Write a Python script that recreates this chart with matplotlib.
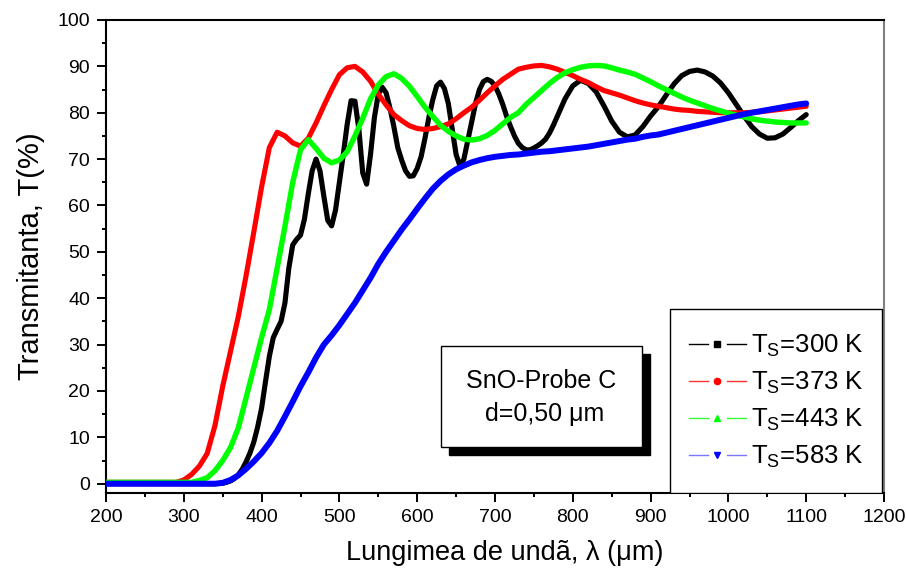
import matplotlib
matplotlib.use("Agg")
import matplotlib.pyplot as plt
from matplotlib.lines import Line2D
from matplotlib.patches import Rectangle
from matplotlib.ticker import MultipleLocator
from matplotlib.legend_handler import HandlerBase

plt.rcParams['font.family'] = ['Liberation Sans', 'DejaVu Sans']
plt.rcParams['mathtext.fontset'] = 'custom'
plt.rcParams['mathtext.rm'] = 'Liberation Sans'
plt.rcParams['mathtext.it'] = 'Liberation Sans'

# ---------------- data ----------------
wl_black = list(range(200, 350, 10)) + list(range(350, 780, 5)) + list(range(780, 1101, 10))
t_300 = ([0.0] * 15 +
         [0.1, 0.3, 0.6, 1.1, 1.9, 3.1, 4.7, 6.6, 9.0, 12.3,
          16.3, 22.0, 27.5, 31.5, 33.3, 35.0, 39.0, 46.5, 51.5, 52.7,
          53.6, 57.0, 62.5, 67.5, 70.0, 67.5, 62.0, 56.8, 55.6, 59.0,
          65.0, 71.0, 77.5, 82.6, 82.5, 76.5, 67.0, 64.6, 71.0, 79.0,
          84.0, 85.5, 84.3, 81.0, 77.0, 72.5, 69.8, 67.5, 66.3, 66.4,
          68.0, 70.5, 74.5, 79.0, 82.8, 85.8, 86.6, 85.2, 82.0, 76.5,
          71.0, 68.5, 70.0, 74.0, 78.0, 82.0, 85.0, 86.7, 87.2, 86.8,
          85.8, 84.0, 81.8, 79.2, 77.0, 75.0, 73.4, 72.5, 72.0, 72.0,
          72.4, 72.9, 73.5, 74.3, 75.6, 77.3] +
         [79.2, 83.0, 85.8, 87.0, 86.3, 84.5, 81.5, 78.2, 75.8, 74.8,
          75.2, 77.0, 79.3, 81.3, 83.8, 86.2, 88.0, 88.9, 89.2, 88.8,
          87.9, 86.4, 84.3, 81.8, 79.3, 77.0, 75.4, 74.5, 74.6, 75.4,
          76.8, 78.3, 79.6])

wl = list(range(200, 1101, 10))
t_373 = ([0.3] * 10 +
         [0.8, 2.0, 3.8, 6.5, 12.5, 21.0, 28.5, 36.0, 44.8, 54.3,
          64.0, 72.5, 75.8, 75.0, 73.5, 72.8, 74.5, 77.8, 81.5, 85.0,
          88.2, 89.7, 90.0, 88.8, 86.8, 84.0, 81.7, 79.6, 78.3, 77.2,
          76.6, 76.4, 76.6, 77.0, 77.6, 78.7, 80.0, 81.2, 82.7, 84.3,
          85.8, 87.2, 88.3, 89.4, 89.8, 90.1, 90.2, 89.9, 89.4, 88.7,
          88.0, 87.2, 86.5, 85.6, 84.8, 84.3, 83.8, 83.2, 82.6, 82.1,
          81.7, 81.4, 81.1, 80.8, 80.6, 80.5, 80.3, 80.2, 80.1, 80.0,
          80.0, 80.0, 80.0, 80.1, 80.2, 80.4, 80.6, 80.8, 81.0, 81.2,
          81.4])
t_443 = ([0.3] * 12 +
         [0.7, 1.3, 2.8, 5.0, 7.8, 12.0, 18.5, 25.0,
          31.5, 37.6, 46.5, 55.5, 65.0, 72.0, 74.2, 72.3, 70.2, 69.2,
          69.8, 71.6, 75.0, 78.8, 83.0, 86.0, 87.8, 88.4, 87.4, 85.7,
          83.5, 81.2, 79.2, 77.3, 76.0, 75.0, 74.3, 74.1, 74.4, 75.1,
          76.2, 77.6, 79.0, 80.0, 81.8, 83.3, 84.8, 86.3, 87.6, 88.6,
          89.3, 89.8, 90.1, 90.2, 90.1, 89.7, 89.2, 88.8, 88.3, 87.5,
          86.7, 85.8, 85.0, 84.2, 83.4, 82.7, 82.1, 81.5, 80.9, 80.4,
          79.9, 79.5, 79.1, 78.7, 78.4, 78.2, 78.0, 77.9, 77.8, 77.8,
          77.8])
t_583 = ([0.0] * 15 +
         [0.2, 0.8, 1.8, 3.2, 4.8,
          6.6, 8.8, 11.4, 14.5, 17.7, 21.0, 24.0, 27.2, 30.0, 32.0,
          34.2, 36.6, 39.0, 41.7, 44.4, 47.4, 50.0, 52.4, 54.8, 57.0,
          59.3, 61.5, 63.6, 65.3, 66.7, 67.8, 68.6, 69.3, 69.8, 70.2,
          70.5, 70.7, 70.9, 71.0, 71.2, 71.4, 71.6, 71.7, 71.9, 72.1,
          72.3, 72.5, 72.7, 73.0, 73.3, 73.6, 73.9, 74.2, 74.4, 74.8,
          75.1, 75.3, 75.7, 76.1, 76.5, 76.9, 77.3, 77.7, 78.1, 78.5,
          78.9, 79.3, 79.7, 80.0, 80.3, 80.6, 80.9, 81.2, 81.5, 81.8,
          82.0])

labels = [r'T$_\mathregular{S}$=300 K', r'T$_\mathregular{S}$=373 K',
          r'T$_\mathregular{S}$=443 K', r'T$_\mathregular{S}$=583 K']
colors = ['#000000', '#ff0000', '#00ff00', '#0000ff']
leg_line_colors = ['#000000', '#ff3333', '#33ff33', '#7777ff']
markers = ['s', 'o', '^', 'v']
line_widths = [3.7, 3.7, 3.9, 4.3]
x_ticks = list(range(200, 1201, 100))
y_ticks = list(range(0, 101, 10))


class LegendEntry:
    def __init__(self, line_color, marker_color, marker):
        self.line_color = line_color
        self.marker_color = marker_color
        self.marker = marker


class GapHandler(HandlerBase):
    def create_artists(self, legend, orig_handle, xdescent, ydescent,
                       width, height, fontsize, trans):
        x0 = -xdescent
        y = height / 2 - ydescent
        l1 = Line2D([x0, x0 + width * 0.33], [y, y],
                    color=orig_handle.line_color, lw=1.0, transform=trans)
        l2 = Line2D([x0 + width * 0.67, x0 + width], [y, y],
                    color=orig_handle.line_color, lw=1.0, transform=trans)
        mk = Line2D([x0 + width * 0.5], [y], marker=orig_handle.marker,
                    color=orig_handle.marker_color, markersize=4.5,
                    linestyle='None', transform=trans)
        return [l1, l2, mk]


# ---------------- figure ----------------
fig = plt.figure(figsize=(9.06, 5.71), dpi=100)
ax = fig.add_axes([106 / 906, 1 - 493 / 571, 778 / 906, 473 / 571])

series = [(wl_black, t_300), (wl, t_373), (wl, t_443), (wl, t_583)]
for (xs, ys), c, lw in zip(series, colors, line_widths):
    ax.plot(xs, ys, color=c, lw=lw, solid_capstyle='round',
            solid_joinstyle='round', zorder=3)

ax.set_xlim(200, 1200)
ax.set_ylim(-2, 100)
ax.set_xticks(x_ticks)
ax.set_yticks(y_ticks)
ax.xaxis.set_minor_locator(MultipleLocator(50))
ax.yaxis.set_minor_locator(MultipleLocator(5))
ax.tick_params(which='major', direction='out', length=6.5, width=1.4,
               labelsize=14, pad=5)
ax.tick_params(which='minor', direction='out', length=3.2, width=1.4)
ax.tick_params(top=False, right=False, which='both')
for s in ['left', 'bottom', 'top']:
    ax.spines[s].set_linewidth(1.5)
ax.spines['right'].set_linewidth(1.5)
ax.spines['right'].set_color('#808080')

ax.set_xlabel('Lungimea de undã, λ (μm)', fontsize=19.5)
ax.xaxis.label.set_va('center')
ax.xaxis.set_label_coords((505 - 106) / 778, -(553 - 493) / 473)
ax.set_ylabel('Transmitanta, T(%)', fontsize=21, labelpad=9)

# text box with shadow
bx0, bx1 = (441 - 106) / 778, (642 - 106) / 778
by0, by1 = (493 - 447) / 473, (493 - 346) / 473
dx, dy = 8 / 778, 8 / 473
ax.add_patch(Rectangle((bx0 + dx, by0 - dy), bx1 - bx0, by1 - by0,
                       transform=ax.transAxes, facecolor='black',
                       edgecolor='black', zorder=5))
ax.add_patch(Rectangle((bx0, by0), bx1 - bx0, by1 - by0,
                       transform=ax.transAxes, facecolor='white',
                       edgecolor='black', lw=1.0, zorder=6))
ax.text((541 - 106) / 778, (493 - 381) / 473, 'SnO-Probe C',
        transform=ax.transAxes, ha='center', va='center', fontsize=18, zorder=7)
ax.text((545 - 106) / 778, (493 - 414) / 473, 'd=0,50 μm',
        transform=ax.transAxes, ha='center', va='center', fontsize=18, zorder=7)

# legend frame
lx0, lx1 = (670 - 106) / 778, (882 - 106) / 778
ly1 = (493 - 309) / 473
ax.add_patch(Rectangle((lx0, 0), lx1 - lx0, ly1, transform=ax.transAxes,
                       facecolor='white', edgecolor='black', lw=1.0, zorder=5))

handles = [LegendEntry(lc, c, m) for lc, c, m in zip(leg_line_colors, colors, markers)]
leg = ax.legend(handles, labels, loc='upper left',
                handler_map={LegendEntry: GapHandler()},
                bbox_to_anchor=((689 - 106) / 778, (493 - 333) / 473),
                frameon=False, fontsize=18.5, handlelength=2.2,
                handletextpad=0.2, labelspacing=0.42, borderaxespad=0,
                borderpad=0)
leg.set_zorder(8)

fig.savefig('out.png', dpi=100)
